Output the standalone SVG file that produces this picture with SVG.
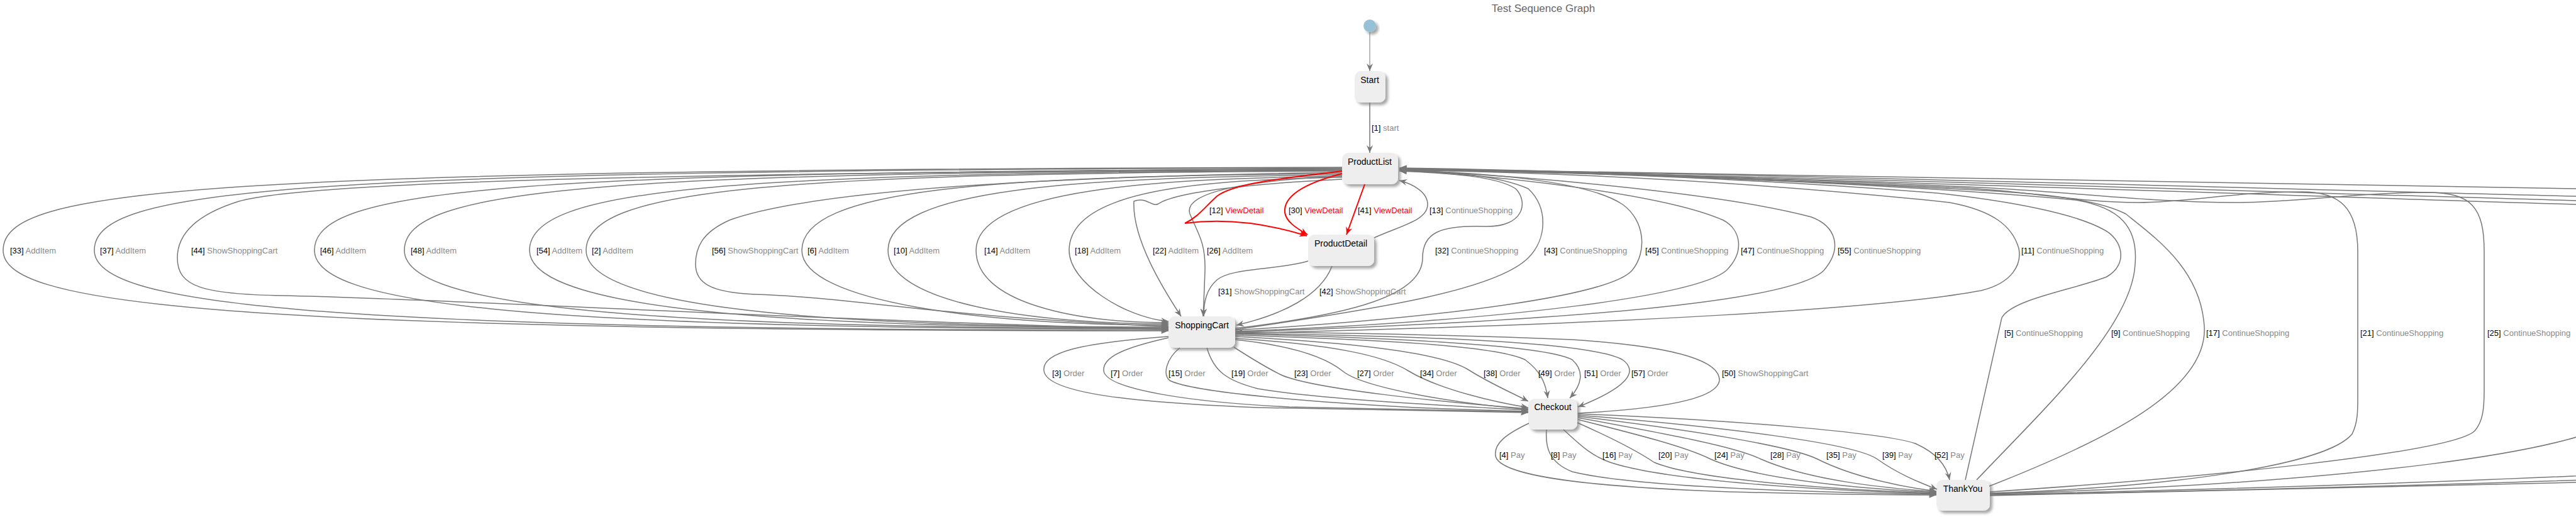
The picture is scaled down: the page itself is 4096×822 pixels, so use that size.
<svg xmlns="http://www.w3.org/2000/svg" width="4096" height="822" viewBox="0 0 4096 822">
<style>
.bx{fill:#eeeeee}
.nt{font-family:"Liberation Sans",Arial,sans-serif;font-size:14px;fill:#000;text-anchor:middle}
.e{fill:none;stroke:#777;stroke-width:1.5;marker-end:url(#ah)}
.r{fill:none;stroke:#f00;stroke-width:2;marker-end:url(#ahr)}
.l{font-family:"Liberation Sans",Arial,sans-serif;font-size:13px;fill:#000}
.a{fill:#888}
.ra{fill:#f00}
.t{font-family:"Liberation Sans",Arial,sans-serif;font-size:17px;fill:#666;text-anchor:middle}
</style>
<defs>
<filter id="sh" x="-20%" y="-20%" width="150%" height="160%">
<feGaussianBlur in="SourceAlpha" stdDeviation="2"/>
<feOffset dx="4" dy="4" result="o"/>
<feFlood flood-color="#000" flood-opacity="0.35"/>
<feComposite in2="o" operator="in"/>
<feMerge><feMergeNode/><feMergeNode in="SourceGraphic"/></feMerge>
</filter>
<marker id="ah" markerUnits="userSpaceOnUse" markerWidth="14" markerHeight="12" viewBox="-13 -6 14 12" refX="0" refY="0" orient="auto"><path d="M0,0 L-12,-5 L-8,0 L-12,5 Z" fill="#777"/></marker>
<marker id="ahr" markerUnits="userSpaceOnUse" markerWidth="14" markerHeight="12" viewBox="-13 -6 14 12" refX="0" refY="0" orient="auto"><path d="M0,0 L-12,-5 L-8,0 L-12,5 Z" fill="#f00"/></marker>
</defs>
<rect width="4096" height="822" fill="#fff"/>
<text class="t" x="2454" y="19">Test Sequence Graph</text>

<g id="nodes">
<g id="init"><circle cx="2178" cy="41" r="10" fill="#97c1d6" filter="url(#sh)"/></g>
<g id="Start"><rect class="bx" x="2154" y="113" width="49" height="50" rx="10" filter="url(#sh)"/><text class="nt" x="2178" y="132">Start</text></g>
<g id="ProductList"><rect class="bx" x="2134" y="243" width="89" height="50" rx="10" filter="url(#sh)"/><text class="nt" x="2178" y="262">ProductList</text></g>
<g id="ProductDetail"><rect class="bx" x="2080" y="373" width="105" height="50" rx="10" filter="url(#sh)"/><text class="nt" x="2132" y="392">ProductDetail</text></g>
<g id="ShoppingCart"><rect class="bx" x="1858" y="503" width="106" height="50" rx="10" filter="url(#sh)"/><text class="nt" x="1911" y="522">ShoppingCart</text></g>
<g id="Checkout"><rect class="bx" x="2430" y="634" width="78" height="49" rx="10" filter="url(#sh)"/><text class="nt" x="2469" y="652">Checkout</text></g>
<g id="ThankYou"><rect class="bx" x="3079" y="763" width="85" height="49" rx="10" filter="url(#sh)"/><text class="nt" x="3121" y="782">ThankYou</text></g>
</g>

<g id="connectors">
<path class="e" style="stroke-width:1" d="M2178,51 L2178,113"/>
<path class="e" d="M2178,163 L2178,243"/>
<!-- left loops ProductList -> ShoppingCart -->
<path class="e" d="M2134,266 C305,270 5,300 5,398 C5,480 305,526 1858,526"/>
<path class="e" d="M2134,267 C450,271 150,300 150,398 C150,480 450,525 1858,525"/>
<path class="e" d="M2134,268 C1200,275 500,285 380,320 C300,345 282,380 282,410 C282,455 320,468 450,470 C700,475 1200,505 1858,524"/>
<path class="e" d="M2134,269 C800,273 500,300 500,398 C500,480 800,523 1858,523"/>
<path class="e" d="M2134,270 C943,274 643,300 643,398 C643,480 943,522 1858,522"/>
<path class="e" d="M2134,271 C1142,275 842,300 842,398 C842,480 1142,521 1858,521"/>
<path class="e" d="M2134,272 C1232,276 932,300 932,398 C932,480 1232,520 1858,520"/>
<path class="e" d="M2134,274 C1700,280 1300,300 1160,350 C1115,370 1106,395 1106,420 C1106,450 1130,465 1200,468 C1350,472 1500,505 1858,519"/>
<path class="e" d="M2134,276 C1575,280 1275,300 1275,398 C1275,480 1566,517 1858,517"/>
<path class="e" d="M2134,278 C1712,282 1412,300 1412,398 C1412,480 1635,515 1858,515"/>
<path class="e" d="M2134,280 C1843,284 1552,300 1552,398 C1552,480 1705,513 1858,513"/>
<path class="e" d="M2134,282 C1917,286 1700,300 1700,398 C1700,450 1790,505 1858,511"/>
<path class="e" d="M2134,285 C1990,292 1870,305 1842,324 C1832,330 1822,312 1803,320 C1800,380 1850,460 1878,503"/>
<path class="e" d="M2134,280 C1990,286 1880,305 1892,340 C1905,372 1917,385 1916,430 C1915,460 1914,480 1913,503"/>
<!-- ViewDetail -->
<path class="r" d="M2134,272 C2040,283 1960,292 1935,312 C1915,330 1905,345 1884,355 C1960,345 2030,360 2078,375"/>
<path class="r" d="M2134,276 C2080,290 2040,310 2043,338 C2045,352 2060,362 2079,373"/>
<path class="r" d="M2170,293 L2141,373"/>
<!-- ProductDetail out -->
<path class="e" d="M2185,378 C2230,358 2270,350 2270,325 C2270,305 2245,292 2225,287"/>
<path class="e" d="M2080,415 C2030,430 1960,425 1935,445 C1918,460 1914,480 1914,503"/>
<path class="e" d="M2118,423 C2100,470 2040,500 1966,517"/>
<!-- ShoppingCart -> ProductList -->
<path class="e" d="M1964,522 C2150,500 2262,470 2262,410 C2262,370 2290,358 2360,360 C2425,362 2430,320 2410,300 C2380,280 2300,275 2225,272"/>
<path class="e" d="M1964,524 C2200,490 2380,460 2430,410 C2460,380 2462,330 2430,300 C2380,278 2300,273 2225,271"/>
<path class="e" d="M1964,525 C2300,505 2560,470 2595,430 C2620,400 2615,350 2580,325 C2520,285 2350,275 2225,270"/>
<path class="e" d="M1964,527 C2400,510 2700,470 2745,430 C2775,400 2768,365 2740,350 C2650,310 2400,280 2225,271"/>
<path class="e" d="M1964,528 C2500,510 2850,480 2900,430 C2930,395 2920,360 2880,345 C2750,310 2450,280 2225,271"/>
<path class="e" d="M1964,530 C2600,515 3000,490 3150,462 C3200,450 3215,420 3210,395 C3200,360 3170,335 3100,322 C2800,290 2500,275 2225,270"/>
<!-- ThankYou -> ProductList -->
<path class="e" d="M3125,763 C3150,650 3170,560 3183,505 C3200,475 3300,460 3350,440 C3385,420 3375,380 3345,365 C3300,340 3200,320 3080,307 C2800,285 2500,273 2225,269"/>
<path class="e" d="M3143,763 C3250,650 3390,520 3395,420 C3400,360 3370,330 3300,318 C3000,290 2500,273 2225,269"/>
<path class="e" d="M3163,773 C3350,700 3510,620 3505,520 C3500,430 3430,380 3380,340 C3320,310 3200,305 3100,300 C2800,285 2500,272 2225,268"/>
<path class="e" d="M3164,784 C3450,775 3700,740 3740,690 C3750,670 3749,650 3749,620 L3749,400 C3749,330 3720,305 3660,305 C3550,305 3480,322 3400,322 C3300,322 3200,300 3100,298 C2800,285 2500,272 2225,268"/>
<path class="e" d="M3164,782 C3500,760 3900,720 3935,685 C3948,670 3950,650 3950,620 L3950,400 C3950,330 3930,306 3860,306 C3750,306 3650,322 3560,322 C3400,322 3250,300 3100,296 C2800,283 2500,271 2225,267"/>
<path class="e" d="M3164,785 C3700,770 4150,720 4180,650 L4180,380 C4180,320 4140,300 4096,300 C3600,295 2800,275 2225,268"/>
<path class="e" d="M3164,786 C3700,775 4200,755 4400,740 L4400,330 C4300,318 4200,312 4096,312 C3600,300 2800,276 2225,269"/>
<path class="e" d="M3164,787 C3700,778 4200,760 4450,752 L4450,330 C4300,322 4200,319 4096,319 C3600,305 2800,278 2225,270"/>
<path class="e" d="M3164,788 C3700,780 4200,765 4500,758 L4500,330 C4300,326 4200,325 4096,325 C3600,310 2800,280 2225,270"/>
<!-- Order -->
<path class="e" d="M1858,535 C1720,545 1655,560 1660,590 C1665,625 1800,640 2000,648 C2200,653 2350,655 2430,656"/>
<path class="e" d="M1858,537 C1800,550 1752,565 1755,590 C1760,620 1900,640 2050,647 C2250,652 2380,654 2430,655"/>
<path class="e" d="M1876,553 C1855,570 1848,595 1860,605 C1900,625 2100,640 2250,648 C2350,652 2400,653 2430,654"/>
<path class="e" d="M1919,553 C1930,590 1950,605 2000,618 C2100,635 2300,645 2430,652"/>
<path class="e" d="M1962,552 C1990,570 2015,585 2035,595 C2080,618 2300,640 2430,650"/>
<path class="e" d="M1964,540 C2060,550 2110,570 2135,590 C2165,615 2300,640 2430,651"/>
<path class="e" d="M1964,538 C2120,548 2200,565 2240,590 C2290,620 2380,640 2430,648"/>
<path class="e" d="M1964,535 C2150,545 2290,560 2335,588 C2370,610 2405,625 2430,638"/>
<path class="e" d="M1964,533 C2200,540 2380,550 2425,572 C2450,590 2458,610 2461,633"/>
<path class="e" d="M1964,531 C2250,538 2460,550 2500,572 C2520,590 2515,612 2496,633"/>
<path class="e" d="M1964,530 C2300,535 2530,545 2580,572 C2605,590 2590,615 2509,647"/>
<path class="e" d="M2509,657 C2640,650 2730,635 2734,605 C2735,570 2650,550 2500,540 C2300,532 2100,529 1965,528"/>
<!-- Pay -->
<path class="e" d="M2431,673 C2395,690 2375,705 2378,725 C2385,760 2550,775 2750,782 C2900,786 3000,787 3079,787"/>
<path class="e" d="M2459,683 C2457,710 2462,735 2500,750 C2600,775 2900,783 3079,786"/>
<path class="e" d="M2486,683 C2510,705 2530,725 2560,735 C2650,765 2900,780 3079,785"/>
<path class="e" d="M2508,672 C2560,695 2600,715 2630,735 C2700,765 2950,780 3079,784"/>
<path class="e" d="M2509,667 C2600,690 2680,710 2720,730 C2800,765 2980,778 3079,783"/>
<path class="e" d="M2509,664 C2650,690 2760,710 2800,730 C2880,765 3000,776 3079,782"/>
<path class="e" d="M2509,662 C2700,685 2850,710 2890,730 C2950,760 3030,775 3079,781"/>
<path class="e" d="M2509,660 C2750,680 2950,705 2985,730 C3020,755 3055,768 3080,778"/>
<path class="e" d="M2509,658 C2800,670 3000,690 3045,705 C3080,720 3095,740 3100,763"/>
</g>

<g id="labels">
<text class="l" x="2181" y="208">[1]<tspan class="a"> start</tspan></text>
<text class="l" x="16" y="403">[33]<tspan class="a"> AddItem</tspan></text>
<text class="l" x="159" y="403">[37]<tspan class="a"> AddItem</tspan></text>
<text class="l" x="304" y="403">[44]<tspan class="a"> ShowShoppingCart</tspan></text>
<text class="l" x="509" y="403">[46]<tspan class="a"> AddItem</tspan></text>
<text class="l" x="653" y="403">[48]<tspan class="a"> AddItem</tspan></text>
<text class="l" x="853" y="403">[54]<tspan class="a"> AddItem</tspan></text>
<text class="l" x="941" y="403">[2]<tspan class="a"> AddItem</tspan></text>
<text class="l" x="1132" y="403">[56]<tspan class="a"> ShowShoppingCart</tspan></text>
<text class="l" x="1284" y="403">[6]<tspan class="a"> AddItem</tspan></text>
<text class="l" x="1421" y="403">[10]<tspan class="a"> AddItem</tspan></text>
<text class="l" x="1565" y="403">[14]<tspan class="a"> AddItem</tspan></text>
<text class="l" x="1709" y="403">[18]<tspan class="a"> AddItem</tspan></text>
<text class="l" x="1833" y="403">[22]<tspan class="a"> AddItem</tspan></text>
<text class="l" x="1919" y="403">[26]<tspan class="a"> AddItem</tspan></text>
<text class="l" x="2282" y="403">[32]<tspan class="a"> ContinueShopping</tspan></text>
<text class="l" x="2455" y="403">[43]<tspan class="a"> ContinueShopping</tspan></text>
<text class="l" x="2616" y="403">[45]<tspan class="a"> ContinueShopping</tspan></text>
<text class="l" x="2768" y="403">[47]<tspan class="a"> ContinueShopping</tspan></text>
<text class="l" x="2922" y="403">[55]<tspan class="a"> ContinueShopping</tspan></text>
<text class="l" x="3214" y="403">[11]<tspan class="a"> ContinueShopping</tspan></text>
<text class="l" x="1923" y="339">[12]<tspan class="ra"> ViewDetail</tspan></text>
<text class="l" x="2049" y="339">[30]<tspan class="ra"> ViewDetail</tspan></text>
<text class="l" x="2159" y="339">[41]<tspan class="ra"> ViewDetail</tspan></text>
<text class="l" x="2273" y="339">[13]<tspan class="a"> ContinueShopping</tspan></text>
<text class="l" x="1937" y="468">[31]<tspan class="a"> ShowShoppingCart</tspan></text>
<text class="l" x="2098" y="468">[42]<tspan class="a"> ShowShoppingCart</tspan></text>
<text class="l" x="3187" y="534">[5]<tspan class="a"> ContinueShopping</tspan></text>
<text class="l" x="3357" y="534">[9]<tspan class="a"> ContinueShopping</tspan></text>
<text class="l" x="3508" y="534">[17]<tspan class="a"> ContinueShopping</tspan></text>
<text class="l" x="3753" y="534">[21]<tspan class="a"> ContinueShopping</tspan></text>
<text class="l" x="3955" y="534">[25]<tspan class="a"> ContinueShopping</tspan></text>
<text class="l" x="1673" y="598">[3]<tspan class="a"> Order</tspan></text>
<text class="l" x="1766" y="598">[7]<tspan class="a"> Order</tspan></text>
<text class="l" x="1858" y="598">[15]<tspan class="a"> Order</tspan></text>
<text class="l" x="1958" y="598">[19]<tspan class="a"> Order</tspan></text>
<text class="l" x="2058" y="598">[23]<tspan class="a"> Order</tspan></text>
<text class="l" x="2158" y="598">[27]<tspan class="a"> Order</tspan></text>
<text class="l" x="2258" y="598">[34]<tspan class="a"> Order</tspan></text>
<text class="l" x="2359" y="598">[38]<tspan class="a"> Order</tspan></text>
<text class="l" x="2446" y="598">[49]<tspan class="a"> Order</tspan></text>
<text class="l" x="2519" y="598">[51]<tspan class="a"> Order</tspan></text>
<text class="l" x="2594" y="598">[57]<tspan class="a"> Order</tspan></text>
<text class="l" x="2738" y="598">[50]<tspan class="a"> ShowShoppingCart</tspan></text>
<text class="l" x="2384" y="728">[4]<tspan class="a"> Pay</tspan></text>
<text class="l" x="2466" y="728">[8]<tspan class="a"> Pay</tspan></text>
<text class="l" x="2548" y="728">[16]<tspan class="a"> Pay</tspan></text>
<text class="l" x="2637" y="728">[20]<tspan class="a"> Pay</tspan></text>
<text class="l" x="2726" y="728">[24]<tspan class="a"> Pay</tspan></text>
<text class="l" x="2815" y="728">[28]<tspan class="a"> Pay</tspan></text>
<text class="l" x="2904" y="728">[35]<tspan class="a"> Pay</tspan></text>
<text class="l" x="2993" y="728">[39]<tspan class="a"> Pay</tspan></text>
<text class="l" x="3076" y="728">[52]<tspan class="a"> Pay</tspan></text>
</g>
</svg>
